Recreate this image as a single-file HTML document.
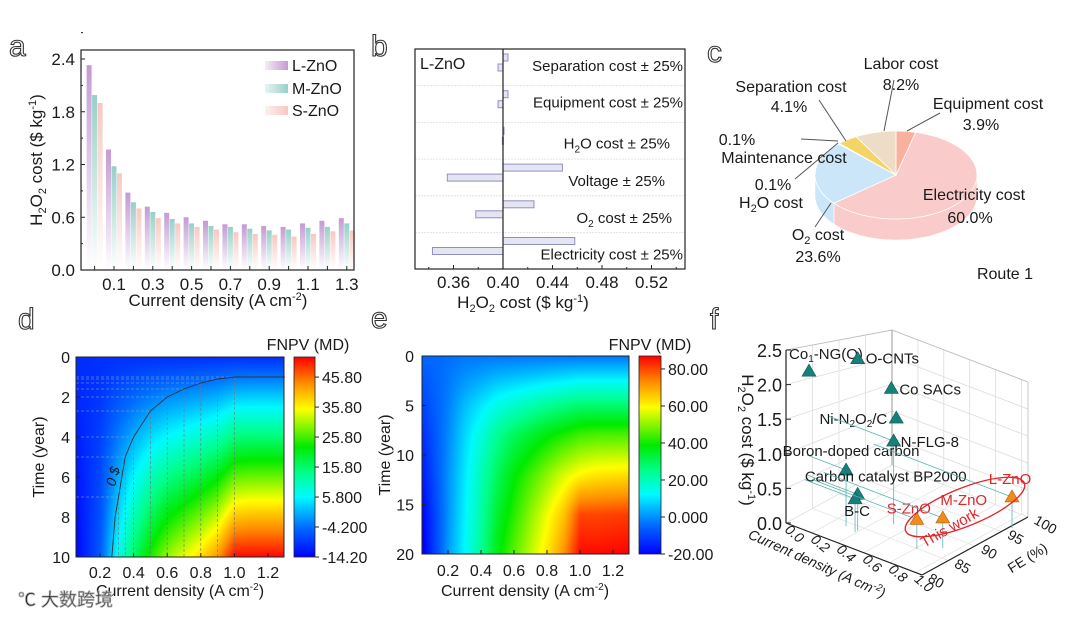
<!DOCTYPE html>
<html><head><meta charset="utf-8">
<style>
html,body{margin:0;padding:0;background:#fff;}
#wrap{position:relative;width:1080px;height:623px;overflow:hidden;background:#fff;}
svg{position:absolute;left:0;top:0;}
canvas{position:absolute;}
text{font-family:"Liberation Sans","Noto Sans CJK SC",sans-serif;fill:#1a1a1a;}
.lt{font-size:30px;fill:#fff;stroke:#333;stroke-width:1.1px;}
</style></head>
<body>
<div id="wrap">
<canvas id="hmD" width="208" height="200" style="left:76px;top:357px"></canvas>
<canvas id="cbD" width="21" height="200" style="left:294px;top:357px"></canvas>
<canvas id="hmE" width="207" height="198" style="left:422px;top:356px"></canvas>
<canvas id="cbE" width="22" height="198" style="left:639px;top:356px"></canvas>
<svg id="fig" width="1080" height="623" viewBox="0 0 1080 623" xmlns="http://www.w3.org/2000/svg">
<defs>
<linearGradient id="gL" x1="0" y1="0" x2="0" y2="1"><stop offset="0" stop-color="#c49ad4"/><stop offset="1" stop-color="#ffffff"/></linearGradient>
<linearGradient id="gM" x1="0" y1="0" x2="0" y2="1"><stop offset="0" stop-color="#96d0c8"/><stop offset="1" stop-color="#ffffff"/></linearGradient>
<linearGradient id="gS" x1="0" y1="0" x2="0" y2="1"><stop offset="0" stop-color="#f8c8c2"/><stop offset="1" stop-color="#ffffff"/></linearGradient>
<linearGradient id="lgL" x1="0" y1="0" x2="1" y2="0"><stop offset="0" stop-color="#f4ecf7"/><stop offset="1" stop-color="#c49ad4"/></linearGradient>
<linearGradient id="lgM" x1="0" y1="0" x2="1" y2="0"><stop offset="0" stop-color="#e8f5f3"/><stop offset="1" stop-color="#96d0c8"/></linearGradient>
<linearGradient id="lgS" x1="0" y1="0" x2="1" y2="0"><stop offset="0" stop-color="#fdf1f0"/><stop offset="1" stop-color="#f8c8c2"/></linearGradient>
</defs>

<text class="lt" x="9" y="56">a</text>
<text class="lt" x="371" y="56">b</text>
<text class="lt" x="707" y="62">c</text>
<text class="lt" x="18" y="329">d</text>
<text class="lt" x="371" y="328">e</text>
<text class="lt" x="710" y="329">f</text>

<g id="pa">
<g id="aBars"></g>
<rect x="81" y="50" width="273" height="220" fill="none" stroke="#222" stroke-width="1.2"/>
<g id="aTicks"></g>
<text transform="translate(42,160) rotate(-90)" text-anchor="middle" font-size="17">H<tspan font-size="11" dy="4">2</tspan><tspan dy="-4">O</tspan><tspan font-size="11" dy="4">2</tspan><tspan dy="-4"> cost ($ kg</tspan><tspan font-size="11" dy="-6">-1</tspan><tspan dy="6">)</tspan></text>
<text x="218" y="306" text-anchor="middle" font-size="17">Current density (A cm<tspan font-size="11" dy="-6">-2</tspan><tspan dy="6">)</tspan></text>
<g>
<rect x="265" y="61" width="23" height="9" fill="url(#lgL)"/>
<text x="292" y="71" font-size="16">L-ZnO</text>
<rect x="265" y="84" width="23" height="9" fill="url(#lgM)"/>
<text x="292" y="94" font-size="16">M-ZnO</text>
<rect x="265" y="106" width="23" height="9" fill="url(#lgS)"/>
<text x="292" y="116" font-size="16">S-ZnO</text>
</g>
</g>

<g id="pb">
<g id="bRows"></g>
<rect x="415" y="49" width="270" height="220" fill="none" stroke="#222" stroke-width="1.2"/>
<line x1="503" y1="49" x2="503" y2="269" stroke="#222" stroke-width="1.2"/>
<text x="420" y="69" font-size="16">L-ZnO</text>
<g id="bTicks"></g>
<text x="523" y="308" text-anchor="middle" font-size="17">H<tspan font-size="11" dy="4">2</tspan><tspan dy="-4">O</tspan><tspan font-size="11" dy="4">2</tspan><tspan dy="-4"> cost ($ kg</tspan><tspan font-size="11" dy="-6">-1</tspan><tspan dy="6">)</tspan></text>
</g>

<g id="pc">
<g id="pie"></g>
<g stroke="#555" stroke-width="1" fill="none">
<line x1="894" y1="80" x2="884" y2="131"/>
<line x1="819" y1="100" x2="846" y2="141"/>
<line x1="940" y1="113" x2="907" y2="131"/>
<line x1="801" y1="139" x2="838" y2="141"/>
<line x1="795" y1="179" x2="838" y2="143"/>
<line x1="815" y1="227" x2="831" y2="203"/>
</g>
<g font-size="16" text-anchor="middle">
<text x="901" y="69">Labor cost</text>
<text x="901" y="90">8.2%</text>
<text x="791" y="92">Separation cost</text>
<text x="789" y="112">4.1%</text>
<text x="988" y="109">Equipment cost</text>
<text x="981" y="130">3.9%</text>
<text x="737" y="145">0.1%</text>
<text x="784" y="163">Maintenance cost</text>
<text x="773" y="190">0.1%</text>
<text x="771" y="208">H<tspan font-size="11" dy="4">2</tspan><tspan dy="-4">O cost</tspan></text>
<text x="974" y="200">Electricity cost</text>
<text x="970" y="223">60.0%</text>
<text x="818" y="240">O<tspan font-size="11" dy="4">2</tspan><tspan dy="-4"> cost</tspan></text>
<text x="818" y="262">23.6%</text>
<text x="1005" y="279">Route 1</text>
</g>
</g>

<g id="pd">
<g id="dOver"></g>
<rect x="76" y="357" width="208" height="200" fill="none" stroke="#222" stroke-width="1"/>
<rect x="294" y="357" width="21" height="200" fill="none" stroke="#222" stroke-width="0.8"/>
<g id="dTicks"></g>
<text x="308" y="350" text-anchor="middle" font-size="16">FNPV (MD)</text>
<text transform="translate(44,457) rotate(-90)" text-anchor="middle" font-size="16">Time (year)</text>
<text x="180" y="596" text-anchor="middle" font-size="16">Current density (A cm<tspan font-size="10" dy="-6">-2</tspan><tspan dy="6">)</tspan></text>
<text x="18" y="606" font-size="18" fill="#fff" stroke="#aaa" stroke-width="0.8">℃ 大数跨境</text>
</g>

<g id="pe">
<rect x="422" y="356" width="207" height="198" fill="none" stroke="#222" stroke-width="1"/>
<rect x="639" y="356" width="22" height="198" fill="none" stroke="#222" stroke-width="0.8"/>
<g id="eTicks"></g>
<text x="650" y="350" text-anchor="middle" font-size="16">FNPV (MD)</text>
<text transform="translate(390,455) rotate(-90)" text-anchor="middle" font-size="16">Time (year)</text>
<text x="525" y="596" text-anchor="middle" font-size="16">Current density (A cm<tspan font-size="10" dy="-6">-2</tspan><tspan dy="6">)</tspan></text>
</g>

<g id="pf">
<g id="fGrid"></g>
<g id="fMarks"></g>
<text transform="translate(742,440) rotate(90)" text-anchor="middle" font-size="17">H<tspan font-size="11" dy="4">2</tspan><tspan dy="-4">O</tspan><tspan font-size="11" dy="4">2</tspan><tspan dy="-4"> cost ($ kg</tspan><tspan font-size="11" dy="-6">-1</tspan><tspan dy="6">)</tspan></text>
<text transform="translate(815,568) rotate(24)" text-anchor="middle" font-size="14" font-style="italic">Current density (A cm<tspan font-size="10" dy="-5">-2</tspan><tspan dy="5">)</tspan></text>
<text transform="translate(1030,562) rotate(-32)" text-anchor="middle" font-size="14">FE (%)</text>
<ellipse cx="965" cy="507" rx="64" ry="19" transform="rotate(-22 965 507)" fill="none" stroke="#e0252a" stroke-width="1.3"/>
<text transform="translate(952,532) rotate(-30)" text-anchor="middle" font-size="15" style="fill:#e0252a">This work</text>
</g>
</svg>
</div>
<script>
const aCategories = ['0.05','0.1','0.2','0.3','0.4','0.5','0.6','0.7','0.8','0.9','1.0','1.1','1.2','1.3'];
const aL = [2.33,1.37,0.88,0.72,0.65,0.60,0.56,0.52,0.52,0.50,0.49,0.53,0.56,0.59];
const aM = [1.99,1.18,0.77,0.66,0.58,0.53,0.50,0.49,0.47,0.45,0.46,0.48,0.49,0.53];
const aS = [1.90,1.10,0.70,0.59,0.53,0.49,0.46,0.43,0.41,0.40,0.38,0.41,0.44,0.45];
const aYTicks = [0,0.6,1.2,1.8,2.4];
const aXTickLabels = ['0.1','0.3','0.5','0.7','0.9','1.1','1.3'];

const bFactors = ['Separation cost','Equipment cost','H2O cost','Voltage','O2 cost','Electricity cost'];
const bHigh = [0.404,0.404,0.4005,0.448,0.425,0.458];
const bLow = [0.396,0.396,0.3995,0.355,0.378,0.343];
const bBase = 0.40;
const bXTicks = [0.36,0.40,0.44,0.48,0.52];

const cSlices = ['Equipment','Electricity','O2','H2O','Maintenance','Separation','Labor'];
const cPct = [3.9,60.0,23.6,0.1,0.1,4.1,8.2];

const dX = [0.05,0.2,0.3,0.4,0.5,0.6,0.7,0.8,0.9,1.0,1.1,1.3];
const dT = [0,1,2,4,6,8,10];
const dRow0 = [-10,-10,-10,-10,-10,-10,-10,-10,-10,-10,-10,-10];
const dRow1 = [-10.4,-9.6,-8.4,-7.4,-6.6,-6,-5.6,-5.2,-4.7,-3.8,-3.7,-3.7];
const dRow2 = [-10.8,-9.2,-6.8,-4.8,-3.2,-2,-1.2,-0.4,0.6,2.4,2.6,2.6];
const dRow4 = [-11.7,-8.4,-3.6,0.4,3.6,6,7.6,9.2,11.2,14.8,15.2,15.2];
const dRow6 = [-12.5,-7.6,-0.4,5.6,10.4,14,16.4,18.8,21.8,27.2,27.8,27.8];
const dRow8 = [-13.4,-6.8,2.8,10.8,17.2,22,25.2,28.4,32.4,39.6,40.4,40.4];
const dRow10 = [-14.2,-6,6,16,24,30,34,38,43,52,52,52];
const dContourX = [0.27,0.29,0.31,0.35,0.4,0.5,0.6,0.7,0.8,0.9,1.0,1.3];
const dContourT = [10,8,7,5,4,2.7,2.0,1.6,1.3,1.1,1.0,1.0];
const dCbTicks = [45.8,35.8,25.8,15.8,5.8,-4.2,-14.2];
const dCbLabels = ['45.80','35.80','25.80','15.80','5.800','-4.200','-14.20'];
const dYTicks = [0,2,4,6,8,10];
const dXTicks = [0.2,0.4,0.6,0.8,1.0,1.2];

const eX = [0.05,0.2,0.3,0.4,0.5,0.6,0.7,0.8,0.9,1.0,1.1,1.3];
const eT = [0,2,5,8,12,16,20];
const eRow0 = [-5,-4,-3,-3,-3,-3,-3,-3,-3,-3,-3,-3];
const eRow2 = [-7,-3,0,2,4,5,6,7,8,9,9,9];
const eRow5 = [-10,-2,5,10,15,18,21,24,26,28,28,28];
const eRow8 = [-13,-1,8,16,24,30,34,38,41,44,45,45];
const eRow12 = [-16,0,10,20,30,38,44,50,56,60,62,63];
const eRow16 = [-19,0,11,22,34,42,50,58,66,80,80,81];
const eRow20 = [-21,1,12,24,37,46,54,62,72,86,86,87];
const eCbTicks = [80,60,40,20,0,-20];
const eCbLabels = ['80.00','60.00','40.00','20.00','0.000','-20.00'];
const eYTicks = [0,5,10,15,20];
const eXTicks = [0.2,0.4,0.6,0.8,1.0,1.2];

const fNames = ['Co1-NG(O)','O-CNTs','Co SACs','Ni-N2O2/C','N-FLG-8','Boron-doped carbon','Carbon catalyst BP2000','B-C','S-ZnO','M-ZnO','L-ZnO'];
const fCurrent = [0.03,0.30,0.49,0.52,0.50,0.30,0.39,0.39,0.81,0.92,1.07];
const fFE = [83.6,86.2,87.9,88.1,88.1,84.0,84.0,83.5,84.9,87.1,96.5];
const fCost = [2.15,2.5,2.15,1.7,1.32,0.85,0.55,0.5,0.45,0.47,0.55];
const fOurs = [false,false,false,false,false,false,false,false,true,true,true];
const fCostTicks = [0,0.5,1.0,1.5,2.0,2.5];
const fCurTicks = [0,0.2,0.4,0.6,0.8,1.0];
const fFETicks = [80,85,90,95,100];

const NS='http://www.w3.org/2000/svg';
function mk(tag, attrs, parent){const e=document.createElementNS(NS,tag);for(const k in attrs)e.setAttribute(k,attrs[k]);if(parent)parent.appendChild(e);return e;}

const aX = i => 94.6 + i*19.4;
const aY = v => 270 - v*(211/2.4);
const aBars = document.getElementById('aBars');
const aSeries = [[aL,'url(#gL)',-8,'l-zno'],[aM,'url(#gM)',-2.5,'m-zno'],[aS,'url(#gS)',3,'s-zno']];
aCategories.forEach((c,i)=>{
  aSeries.forEach(s=>{
    const v=s[0][i];
    const r=mk('rect',{x:aX(i)+s[2],y:aY(v),width:5,height:aY(0)-aY(v),fill:s[1]},aBars);
    
    
  });
});
const aTicks=document.getElementById('aTicks');
aYTicks.forEach(v=>{
  mk('line',{x1:81,x2:85,y1:aY(v),y2:aY(v),stroke:'#222'},aTicks);
  mk('line',{x1:81,x2:83,y1:aY(v+0.3),y2:aY(v+0.3),stroke:'#222'},aTicks);
  const t=mk('text',{x:75,y:aY(v)+6,'text-anchor':'end','font-size':17},aTicks);t.textContent=v.toFixed(1);
  
  
});
aCategories.forEach((c,i)=>{mk('line',{x1:aX(i),x2:aX(i),y1:270,y2:266,stroke:'#222'},aTicks);});
aXTickLabels.forEach(lbl=>{
  const i=aCategories.indexOf(lbl);
  const t=mk('text',{x:aX(i),y:290,'text-anchor':'middle','font-size':17},aTicks);t.textContent=lbl;
  
  
});

const bX = v => 503 + (v-0.40)*(49.5/0.04);
const rowTop = i => 49 + i*36.7;
const bRows=document.getElementById('bRows');
bFactors.forEach((f,i)=>{
  if(i>0){mk('line',{x1:415,x2:685,y1:rowTop(i),y2:rowTop(i),stroke:'#ddd','stroke-width':0.8,'stroke-dasharray':'2,1'},bRows);}
  const h=bHigh[i], l=bLow[i];
  const r1=mk('rect',{x:bX(bBase),y:rowTop(i)+5,width:Math.max(bX(h)-bX(bBase),1),height:7,fill:'#e4e4f2',stroke:'#9090c0','stroke-width':1},bRows);
  
  
  const r2=mk('rect',{x:bX(l),y:rowTop(i)+15,width:Math.max(bX(bBase)-bX(l),1),height:7,fill:'#e4e4f2',stroke:'#9090c0','stroke-width':1},bRows);
  
  
  const t=mk('text',{x:683,y:rowTop(i)+(i<2?22:(i==2?26:27)),'text-anchor':'end','font-size':15},bRows);
  if(f==='H2O cost'){t.innerHTML='H<tspan font-size="10" dy="4">2</tspan><tspan dy="-4">O cost ± 25%</tspan>';t.setAttribute('x',670);}
  else if(f==='O2 cost'){t.innerHTML='O<tspan font-size="10" dy="4">2</tspan><tspan dy="-4"> cost ± 25%</tspan>';t.setAttribute('x',672);}
  else if(f==='Voltage'){t.textContent=f+' ± 25%';t.setAttribute('x',665);}
  else t.textContent=f+' ± 25%';
  
  
});
const bTicks=document.getElementById('bTicks');
bXTicks.forEach(v=>{
  mk('line',{x1:bX(v),x2:bX(v),y1:269,y2:265,stroke:'#222'},bTicks);
  mk('line',{x1:bX(v+0.02),x2:bX(v+0.02),y1:269,y2:267,stroke:'#222'},bTicks);
  const t=mk('text',{x:bX(v),y:288,'text-anchor':'middle','font-size':17},bTicks);t.textContent=v.toFixed(2);
  
  
});
mk('line',{x1:bX(0.34),x2:bX(0.34),y1:269,y2:267,stroke:'#222'},bTicks);

(function(){
  const cx=896, cy=175, rx=81, ry=44, dep=21;
  const cols={Equipment:'#f8a48c',Electricity:'#f9c2c2',O2:'#c4e2f8',H2O:'#c8d0ea',Maintenance:'#c8d0ea',Separation:'#f3cd4a',Labor:'#ead8bc'};
  const pie=document.getElementById('pie');
  const P=(a,d)=>[cx+rx*Math.sin(a), cy-ry*Math.cos(a)+d];
  let acc=0; const ranges=[];
  cPct.forEach(p=>{const a0=acc/100*2*Math.PI; acc+=p; ranges.push([a0,acc/100*2*Math.PI]);});
  cSlices.forEach((s,i)=>{
    const a0=Math.max(ranges[i][0],Math.PI/2), a1=Math.min(ranges[i][1],1.5*Math.PI);
    if(a1<=a0) return;
    let pts=[];
    for(let k=0;k<=30;k++){pts.push(P(a0+(a1-a0)*k/30,0));}
    for(let k=30;k>=0;k--){pts.push(P(a0+(a1-a0)*k/30,dep));}
    const e=mk('polygon',{points:pts.map(p=>p.join(',')).join(' '),fill:cols[s],opacity:0.85,stroke:'#fff','stroke-width':0.6},pie);
    
    
  });
  cSlices.forEach((s,i)=>{
    const [a0,a1]=ranges[i];
    let d='M'+cx+','+cy;
    const n=Math.max(2,Math.ceil((a1-a0)*20));
    for(let k=0;k<=n;k++){const p=P(a0+(a1-a0)*k/n,0);d+=' L'+p[0].toFixed(1)+','+p[1].toFixed(1);}
    d+=' Z';
    const e=mk('path',{d:d,fill:cols[s],opacity:0.85,stroke:'#fff','stroke-width':0.8},pie);
    
    
  });
})();

const cmStops=[[0,0,0,255],[0.15,0,110,255],[0.3,0,250,255],[0.42,0,255,140],[0.55,0,235,0],[0.74,255,255,0],[0.87,255,140,0],[1,255,0,0]];
function cmap(u){u=Math.max(0,Math.min(1,u));for(let i=1;i<cmStops.length;i++){if(u<=cmStops[i][0]){const a=cmStops[i-1],b=cmStops[i];const f=(u-a[0])/(b[0]-a[0]);return [a[1]+(b[1]-a[1])*f,a[2]+(b[2]-a[2])*f,a[3]+(b[3]-a[3])*f];}}return [255,0,0];}
function interp1(arr,v){if(v<=arr[0])return [0,0];for(let i=1;i<arr.length;i++){if(v<=arr[i])return [i-1,(v-arr[i-1])/(arr[i]-arr[i-1])];}return [arr.length-2,1];}
function heat(id,xs,ts,grid,x0v,x1v,t1,vmin,vmax){
  const cv=document.getElementById(id),ctx=cv.getContext('2d');
  const W=cv.width,H=cv.height,img=ctx.createImageData(W,H);
  for(let py=0;py<H;py++){
    const t=(py+0.5)/H*t1; const [j,fy]=interp1(ts,t);
    for(let px=0;px<W;px++){
      const x=x0v+(px+0.5)/W*(x1v-x0v); const [i,fx]=interp1(xs,x);
      const v=(grid[j][i]*(1-fx)+grid[j][i+1]*fx)*(1-fy)+(grid[j+1][i]*(1-fx)+grid[j+1][i+1]*fx)*fy;
      const c=cmap((v-vmin)/(vmax-vmin)); const o=(py*W+px)*4;
      img.data[o]=c[0];img.data[o+1]=c[1];img.data[o+2]=c[2];img.data[o+3]=255;
    }
  }
  ctx.putImageData(img,0,0);
}
function cbar(id){const cv=document.getElementById(id),ctx=cv.getContext('2d');for(let y=0;y<cv.height;y++){const c=cmap(1-(y+0.5)/cv.height);ctx.fillStyle='rgb('+c.map(Math.round).join(',')+')';ctx.fillRect(0,y,cv.width,1);}}

const dXs = v => 100 + (v-0.2)*168;
const dYs = t => 357 + 20*t;
const dMin=-14.2, dMax=52.5;
heat('hmD',dX,dT,[dRow0,dRow1,dRow2,dRow4,dRow6,dRow8,dRow10],(76-100)/168+0.2,(284-100)/168+0.2,10,dMin,dMax);
cbar('cbD');
(function(){
  const g=document.getElementById('dOver');
  for(let k=0;k<dContourX.length-1;k++){
    const x=dXs(dContourX[k]), y=dYs(dContourT[k]);
    if(dContourX[k]>=0.3){
      mk('line',{x1:x,x2:x,y1:y,y2:557,stroke:'#777','stroke-width':0.6,'stroke-dasharray':'3,2'},g);
      mk('line',{x1:76,x2:x,y1:y,y2:y,stroke:'#9ab','stroke-width':0.6,'stroke-dasharray':'3,2'},g);
    }
  }
  let d='';
  dContourX.forEach((v,k)=>{d+=(k?' L':'M')+dXs(v).toFixed(1)+','+dYs(dContourT[k]).toFixed(1);});
  const p=mk('path',{d:d,fill:'none',stroke:'#333','stroke-width':0.9},g);
  
  
  const t=mk('text',{transform:'translate(115,487) rotate(-75)','font-size':14,'font-style':'italic'},g);t.textContent='0 $';
  
  
  const tk=document.getElementById('dTicks');
  dYTicks.forEach(v=>{mk('line',{x1:76,x2:80,y1:dYs(v),y2:dYs(v),stroke:'#222'},tk);
    const s=mk('text',{x:70,y:dYs(v)+6,'text-anchor':'end','font-size':16},tk);s.textContent=v;
    
    });
  dXTicks.forEach(v=>{mk('line',{x1:dXs(v),x2:dXs(v),y1:557,y2:553,stroke:'#222'},tk);
    const s=mk('text',{x:dXs(v),y:578,'text-anchor':'middle','font-size':16},tk);s.textContent=v.toFixed(1);
    
    });
  dCbTicks.forEach((v,k)=>{const y=557-(v-dMin)/(dMax-dMin)*200;mk('line',{x1:315,x2:319,y1:y,y2:y,stroke:'#222'},tk);
    const s=mk('text',{x:322,y:y+6,'font-size':16},tk);s.textContent=dCbLabels[k];
    
    });
})();

const eXs = v => 448 + (v-0.2)*165;
const eYs = t => 356 + 9.9*t;
const eMin=-20, eMax=87;
heat('hmE',eX,eT,[eRow0,eRow2,eRow5,eRow8,eRow12,eRow16,eRow20],(422-448)/165+0.2,(629-448)/165+0.2,20,eMin,eMax);
cbar('cbE');
(function(){
  const tk=document.getElementById('eTicks');
  eYTicks.forEach(v=>{mk('line',{x1:422,x2:426,y1:eYs(v),y2:eYs(v),stroke:'#222'},tk);
    const s=mk('text',{x:414,y:eYs(v)+6,'text-anchor':'end','font-size':16},tk);s.textContent=v;
    
    });
  eXTicks.forEach(v=>{mk('line',{x1:eXs(v),x2:eXs(v),y1:554,y2:550,stroke:'#222'},tk);
    const s=mk('text',{x:eXs(v),y:576,'text-anchor':'middle','font-size':16},tk);s.textContent=v.toFixed(1);
    
    });
  eCbTicks.forEach((v,k)=>{const y=554-(v-eMin)/(eMax-eMin)*198;mk('line',{x1:661,x2:665,y1:y,y2:y,stroke:'#222'},tk);
    const s=mk('text',{x:668,y:y+6,'font-size':16},tk);s.textContent=eCbLabels[k];
    
    });
})();

(function(){
  const O=[786,523];
  const P=(c,fe,z)=>{const k=1-0.011*(fe-80); return [O[0]+129.5*c+5.3*(fe-80), O[1]+49.5*c-2.9*(fe-80)-69.2*k*z];};
  const g=document.getElementById('fGrid');
  const L=(a,b,st,w)=>mk('line',{x1:a[0],y1:a[1],x2:b[0],y2:b[1],stroke:st,'stroke-width':w},g);
  const cMax=1.05;
  fCostTicks.forEach(z=>{L(P(0,80,z),P(0,100,z),'#ddd',0.8);L(P(0,100,z),P(cMax,100,z),'#ddd',0.8);});
  fFETicks.forEach(fe=>{L(P(0,fe,0),P(0,fe,2.5),'#ddd',0.8);L(P(0,fe,0),P(cMax,fe,0),'#e4e4e4',0.8);});
  fCurTicks.forEach(c=>{L(P(c,100,0),P(c,100,2.5),'#ddd',0.8);L(P(c,80,0),P(c,100,0),'#e4e4e4',0.8);});
  L(P(0,100,0),P(0,100,2.5),'#888',0.8);
  L(P(0,80,2.5),P(0,100,2.5),'#bbb',0.8);L(P(0,100,2.5),P(cMax,100,2.5),'#bbb',0.8);
  L(P(cMax,100,0),P(cMax,100,2.5),'#bbb',0.8);
  L(P(0,80,0),P(0,80,2.5),'#222',1.2);
  L(P(0,80,0),P(cMax,80,0),'#222',1.2);
  L(P(cMax,80,0),P(cMax,100,0),'#222',1.2);
  fCostTicks.forEach(z=>{const p=P(0,80,z);L(p,[p[0]+5,p[1]],'#222',1);
    const s=mk('text',{x:p[0]-4,y:p[1]+7,'text-anchor':'end','font-size':18},g);s.textContent=z.toFixed(1);
    
    });
  fCurTicks.forEach(c=>{const p=P(c,80,0);
    const s=mk('text',{transform:'translate('+(p[0]-2)+','+(p[1]+8)+') rotate(40)','font-size':14,'font-style':'italic'},g);s.textContent=c.toFixed(1);
    
    });
  fFETicks.forEach(fe=>{const p=P(cMax,fe,0);
    const s=mk('text',{transform:'translate('+(p[0]+5)+','+(p[1]+6)+') rotate(30)','font-size':14},g);s.textContent=fe;
    
    });
  const m=document.getElementById('fMarks');
  const labOff={'Co1-NG(O)':[17,-12,'middle'],'O-CNTs':[8,5,'start'],'Co SACs':[8,6,'start'],'Ni-N2O2/C':[-9,6,'end'],'N-FLG-8':[7,6,'start'],'Boron-doped carbon':[5,-14,'middle'],'Carbon catalyst BP2000':[28,-13,'middle'],'B-C':[2,17,'middle'],'S-ZnO':[-8,-6,'middle'],'M-ZnO':[21,-13,'middle'],'L-ZnO':[-2,-13,'middle']};
  fNames.forEach((n,i)=>{
    const p=P(fCurrent[i],fFE[i],fCost[i]), b=P(fCurrent[i],fFE[i],0);
    const col=fOurs[i]?'#f08c1a':'#17807a';
    if(fOurs[i]||i>=4){
      mk('line',{x1:p[0],y1:p[1],x2:b[0],y2:b[1],stroke:'#5bb5b0','stroke-width':0.8},m);
      const q=P(0,fFE[i],fCost[i]);
      mk('line',{x1:p[0],y1:p[1],x2:q[0],y2:q[1],stroke:'#5bb5b0','stroke-width':0.8},m);
    }
    const tri=mk('polygon',{points:(p[0])+','+(p[1]-7)+' '+(p[0]-7)+','+(p[1]+5)+' '+(p[0]+7)+','+(p[1]+5),fill:col,stroke:fOurs[i]?'#b86010':'#0f5955','stroke-width':0.6},m);
    
    
    const o=labOff[n];
    const t=mk('text',{x:p[0]+o[0],y:p[1]+o[1],'text-anchor':o[2],'font-size':15},m);
    if(fOurs[i])t.setAttribute('style','fill:#e0252a');
    if(n==='Co1-NG(O)')t.innerHTML='Co<tspan font-size="10" dy="3">1</tspan><tspan dy="-3">-NG(O)</tspan>';
    else if(n==='Ni-N2O2/C')t.innerHTML='Ni-N<tspan font-size="10" dy="3">2</tspan><tspan dy="-3">O</tspan><tspan font-size="10" dy="3">2</tspan><tspan dy="-3">/C</tspan>';
    else t.textContent=n;
    
    
  });
})();
</script>
</body></html>
